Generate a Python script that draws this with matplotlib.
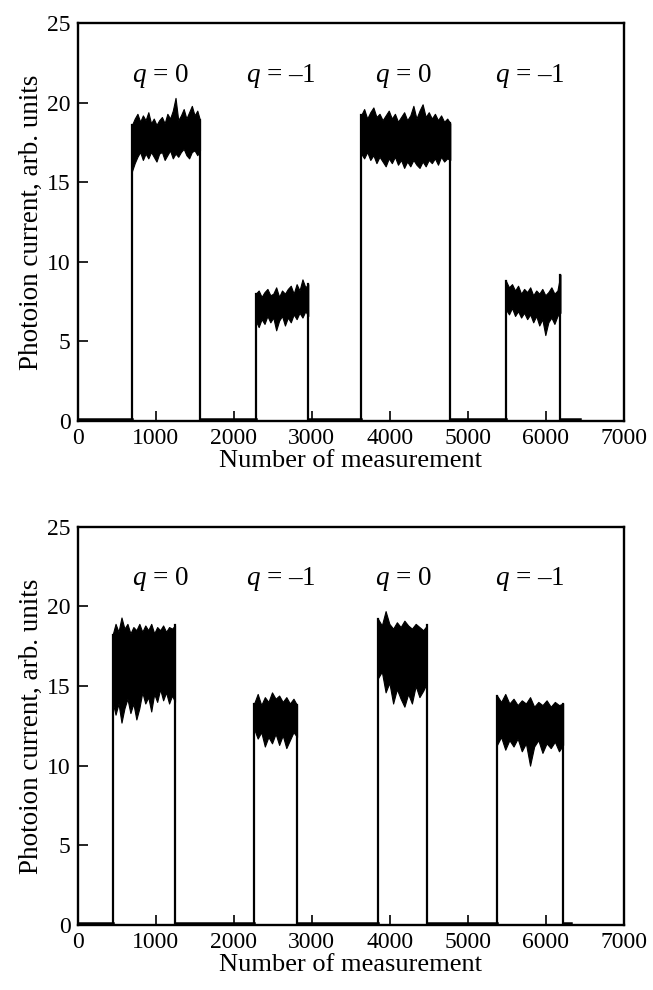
import numpy as np
import matplotlib
matplotlib.use('Agg')
import matplotlib.pyplot as plt

plt.rcParams['font.family'] = ['Liberation Serif', 'DejaVu Serif']
plt.rcParams['mathtext.fontset'] = 'custom'
plt.rcParams['mathtext.it'] = 'Liberation Serif:italic'
plt.rcParams['mathtext.rm'] = 'Liberation Serif'

# ---- data ----
q_labels = ['$q$ = 0', '$q$ = \u20131', '$q$ = 0', '$q$ = \u20131']
q_label_x_top = [1065, 2600, 4175, 5790]
q_label_x_bot = [1065, 2600, 4175, 5790]
q_label_y = 21.7

# upper panel: block edges (number of measurement)
top_edges = [(698, 1569), (2283, 2956), (3632, 4775), (5488, 6186)]
top_upper = [
    [18.6, 19.0, 19.3, 18.8, 19.2, 18.9, 19.4, 18.7, 19.0, 18.6, 18.9, 19.1, 18.7,
     19.3, 19.0, 19.5, 20.3, 18.9, 19.2, 19.6, 19.0, 19.4, 19.8, 19.2, 19.5, 18.9],
    [8.0, 8.2, 7.8, 8.1, 8.3, 7.9, 8.0, 8.4, 7.8, 8.2, 8.0, 8.3, 8.5, 8.0, 8.6, 8.2,
     8.9, 8.4, 8.6],
    [19.2, 19.6, 19.0, 19.4, 19.7, 19.1, 19.3, 18.9, 19.2, 19.5, 19.0, 19.3, 18.8, 19.1,
     19.4, 18.9, 19.2, 19.8, 19.0, 19.5, 19.9, 19.1, 19.4, 19.0, 19.3, 18.9, 19.2, 18.8,
     19.0, 18.7],
    [8.8, 8.4, 8.6, 8.2, 8.5, 8.0, 8.3, 8.1, 8.4, 7.9, 8.2, 8.0, 8.3, 7.9, 8.1, 8.4,
     8.0, 8.2, 9.2],
]
top_lower = [
    [15.7, 16.2, 16.6, 16.9, 16.4, 16.8, 16.5, 16.9, 16.6, 16.3, 16.8, 16.9, 16.4,
     16.7, 17.0, 16.5, 16.8, 16.6, 16.9, 17.1, 16.7, 16.5, 16.9, 17.0, 16.7, 17.0],
    [6.3, 5.9, 6.4, 6.1, 6.6, 6.2, 6.5, 5.7, 6.3, 6.6, 6.0, 6.5, 6.2, 6.7, 6.4, 6.8,
     6.5, 6.9, 6.6],
    [16.8, 16.5, 16.9, 16.4, 16.7, 16.2, 16.6, 16.3, 16.0, 16.5, 16.2, 16.6, 16.1, 16.4,
     15.9, 16.3, 16.0, 16.4, 16.1, 15.9, 16.3, 16.0, 16.4, 16.2, 16.5, 16.1, 16.6, 16.3,
     16.5, 16.4],
    [7.0, 6.7, 7.1, 6.6, 6.9, 6.5, 6.8, 6.4, 6.7, 6.2, 6.6, 6.0, 6.4, 5.4, 6.2, 6.5,
     6.1, 6.6, 6.8],
]
top_baseline_end = 6431

# lower panel
bot_edges = [(449, 1249), (2262, 2812), (3850, 4476), (5373, 6220)]
bot_upper = [
    [18.2, 18.9, 18.4, 19.3, 18.6, 18.9, 18.3, 18.7, 18.5, 18.9, 18.4, 18.8, 18.5,
     18.9, 18.3, 18.7, 18.5, 18.8, 18.4, 18.7, 18.6, 18.8],
    [13.9, 14.5, 13.8, 14.3, 14.0, 14.6, 14.2, 14.4, 14.0, 14.3, 13.9, 14.2, 13.8],
    [19.2, 18.8, 19.7, 18.9, 18.6, 19.0, 18.7, 19.1, 18.8, 18.6, 18.9, 18.7, 18.5, 18.8],
    [14.4, 14.0, 14.5, 13.9, 14.2, 13.8, 14.1, 13.9, 14.3, 13.7, 14.0, 13.8, 14.1, 13.7,
     14.0, 13.8, 13.9],
]
bot_lower = [
    [14.0, 13.2, 13.9, 12.7, 13.6, 14.2, 13.3, 13.9, 12.9, 13.6, 14.6, 13.9, 14.3,
     13.4, 14.5, 14.0, 14.8, 14.1, 14.6, 13.9, 14.4, 14.0],
    [12.3, 11.7, 12.1, 11.2, 11.8, 11.4, 12.0, 11.3, 11.9, 11.1, 11.6, 12.1, 11.8],
    [15.5, 15.9, 14.6, 15.2, 13.9, 14.8, 14.2, 13.7, 14.5, 13.9, 15.0, 14.3, 14.7, 15.2],
    [11.3, 11.8, 11.0, 11.6, 11.2, 11.7, 10.9, 11.4, 10.0, 11.2, 11.6, 10.8, 11.4, 11.1,
     11.5, 10.9, 11.3],
]
bot_baseline_end = 6318
baseline_level = 0.1

x_ticks = [0, 1000, 2000, 3000, 4000, 5000, 6000, 7000]
y_ticks = [0, 5, 10, 15, 20, 25]


def draw_panel(ax, edges, upper, lower, base_end, qx):
    # flat baseline between the blocks
    prev = 0
    for (x0, x1) in edges:
        ax.plot([prev, x0], [baseline_level, baseline_level], color='k', lw=1.8)
        prev = x1
    ax.plot([prev, base_end], [baseline_level, baseline_level], color='k', lw=1.8)

    for (x0, x1), up, lo in zip(edges, upper, lower):
        xs = np.linspace(x0, x1, len(up))
        ax.fill_between(xs, lo, up, color='k', lw=0.8, edgecolor='k')
        ax.plot([x0, x0], [0, up[0]], color='k', lw=1.6)
        ax.plot([x1, x1], [0, up[-1]], color='k', lw=1.6)

    for x, t in zip(qx, q_labels):
        ax.text(x, q_label_y, t, ha='center', va='center', fontsize=19.5)

    ax.set_xlim(0, 7000)
    ax.set_ylim(0, 25)
    ax.set_xticks(x_ticks)
    ax.set_yticks(y_ticks)
    ax.tick_params(direction='in', length=7, width=1.2, labelsize=17, pad=5)
    for s in ax.spines.values():
        s.set_linewidth(1.7)
    ax.set_xlabel('Number of measurement', fontsize=19, labelpad=1)
    ax.set_ylabel('Photoion current, arb. units', fontsize=19.5, labelpad=2)


fig = plt.figure(figsize=(6.53, 9.9), dpi=100)
ax1 = fig.add_axes([0.1187, 0.5747, 0.8369, 0.402])
ax2 = fig.add_axes([0.1187, 0.0657, 0.8369, 0.4023])

draw_panel(ax1, top_edges, top_upper, top_lower, top_baseline_end, q_label_x_top)
draw_panel(ax2, bot_edges, bot_upper, bot_lower, bot_baseline_end, q_label_x_bot)

fig.savefig('out.png', dpi=100)
